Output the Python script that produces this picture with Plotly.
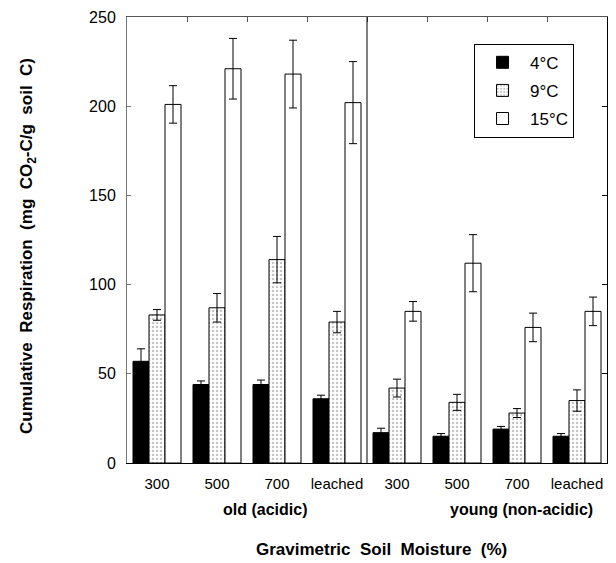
import plotly.graph_objects as go

groups = ["300", "500", "700", "leached", "300", "500", "700", "leached"]
series_names = ["4°C", "9°C", "15°C"]
resp_4 = [57, 44, 44, 36, 17, 15, 19, 15]
err_4 = [7, 2, 2.5, 2, 2.5, 1.5, 1.5, 1.5]
resp_9 = [83, 87, 114, 79, 42, 34, 28, 35]
err_9 = [3, 8, 13, 6, 5, 4.5, 2.5, 6]
resp_15 = [201, 221, 218, 202, 85, 112, 76, 85]
err_15 = [10.5, 17, 19, 23, 5.5, 16, 8, 8]
site_labels = ["old (acidic)", "young (non-acidic)"]

FONT = "Liberation Sans, Arial, Helvetica, sans-serif"
xpos = list(range(len(groups)))

fig = go.Figure()
styles = [
    dict(color="black", pattern=None),
    dict(color="white", pattern=dict(shape=".", fgcolor="#8a8a8a", bgcolor="white", size=4, solidity=0.3)),
    dict(color="white", pattern=None),
]
for i, (name, vals, errs) in enumerate(zip(series_names, [resp_4, resp_9, resp_15], [err_4, err_9, err_15])):
    marker = dict(color=styles[i]["color"], line=dict(color="black", width=1))
    if styles[i]["pattern"]:
        marker["pattern"] = styles[i]["pattern"]
    fig.add_trace(go.Bar(
        x=xpos, y=vals, name=name, marker=marker, legendgroup=name,
        error_y=dict(type="data", array=errs, visible=True, color="black", thickness=1, width=4),
    ))

fig.update_layout(
    width=616, height=563,
    margin=dict(l=127, r=9, t=15, b=100),
    plot_bgcolor="white", paper_bgcolor="white",
    barmode="group", bargap=0.2, bargroupgap=0,
    font=dict(family=FONT, size=15, color="black"),
    showlegend=True,
    legend=dict(
        x=0.723, y=0.94, xanchor="left", yanchor="top",
        bordercolor="black", borderwidth=1, bgcolor="white",
        font=dict(size=17), tracegroupgap=3,
        itemwidth=45, entrywidth=62, entrywidthmode="pixels",
    ),
    xaxis=dict(
        range=[-0.5, 7.5], tickvals=xpos, ticktext=groups,
        showline=True, linecolor="black", linewidth=1, mirror=False,
        ticks="outside", ticklen=7, tickcolor="rgba(0,0,0,0)",
        showgrid=False, zeroline=False, tickfont=dict(size=15),
    ),
    xaxis2=dict(
        range=[-0.5, 7.5], overlaying="x", side="top",
        tickvals=[k + 0.5 for k in range(7)], showticklabels=False,
        ticks="inside", ticklen=5, tickcolor="#555",
        showline=True, linecolor="#555", linewidth=1, showgrid=False, zeroline=False,
    ),
    yaxis=dict(
        range=[0, 250], tickvals=[0, 50, 100, 150, 200, 250],
        showline=True, linecolor="#777", linewidth=1,
        ticks="inside", ticklen=4, tickcolor="#777", ticklabelstandoff=7,
        showgrid=False, zeroline=False, tickfont=dict(size=16),
    ),
    yaxis2=dict(
        range=[0, 250], overlaying="y", side="right",
        tickvals=[0, 50, 100, 150, 200, 250], showticklabels=False,
        ticks="inside", ticklen=5, tickcolor="black",
        showline=True, linecolor="black", linewidth=1, showgrid=False, zeroline=False,
    ),
)

# invisible trace that activates the secondary (frame) axes
fig.add_trace(go.Scatter(x=[0], y=[0], xaxis="x2", yaxis="y2", mode="markers",
                         marker=dict(opacity=0), showlegend=False, hoverinfo="skip"))

# divider between sites
fig.add_shape(type="line", xref="x", yref="paper", x0=3.5, x1=3.5, y0=0, y1=1,
              line=dict(color="black", width=1))

fig.add_annotation(text="<b>" + site_labels[0] + "</b>", xref="x", yref="paper",
                   x=1.8, y=-0.105, showarrow=False, font=dict(size=16), xanchor="center", yanchor="middle")
fig.add_annotation(text="<b>" + site_labels[1] + "</b>", xref="x", yref="paper",
                   x=6.08, y=-0.105, showarrow=False, font=dict(size=16), xanchor="center", yanchor="middle")
fig.add_annotation(text="<b>Gravimetric  Soil  Moisture  (%)</b>", xref="paper", yref="paper",
                   x=0.531, y=-0.194, showarrow=False, font=dict(size=17), xanchor="center", yanchor="middle")
fig.add_annotation(text="<b>Cumulative  Respiration  (mg  CO<sub>2</sub>-C/g  soil  C)</b>", xref="paper", yref="paper",
                   x=-0.206, y=0.487, showarrow=False, textangle=-90, font=dict(size=17),
                   xanchor="center", yanchor="middle")

fig.write_html("out.html")
